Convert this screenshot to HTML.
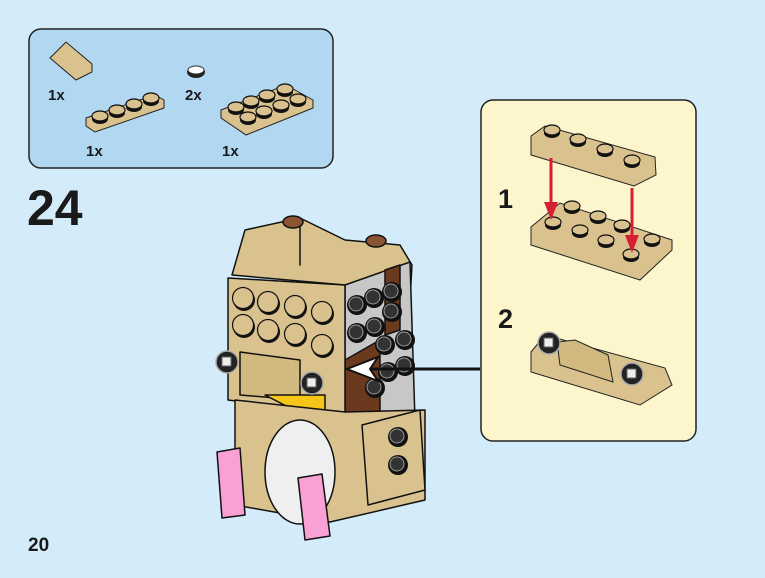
<!DOCTYPE html><html><head><style>body{margin:0;width:765px;height:578px;overflow:hidden;background:#d4ebfa}svg{display:block}text{font-family:"Liberation Sans",sans-serif;font-weight:bold;fill:#1a1a1a}</style></head><body>
<svg width="765" height="578" viewBox="0 0 765 578">
<defs>
<g id="st"><ellipse cx="0" cy="2" rx="8" ry="5" fill="#111"/><ellipse cx="0" cy="-1" rx="8" ry="5" fill="#d9c28e" stroke="#111" stroke-width="1.2"/></g>
<g id="fs"><circle cx="1" cy="2" r="11" fill="#111"/><circle r="10.5" fill="#d9c28e" stroke="#111" stroke-width="1.2"/></g>
<g id="bst"><circle r="10" fill="#111"/><circle cx="-1" cy="-1" r="7" fill="#333" stroke="#999" stroke-width="1"/></g>
<g id="ts"><circle r="11" fill="#222" stroke="#aaa" stroke-width="1.5"/><rect x="-5" y="-5" width="9" height="9" fill="#eee" stroke="#666"/></g>
</defs>
<rect x="29" y="29" width="304" height="139" rx="12" fill="#b1d7f1" stroke="#222" stroke-width="1.5"/>
<polygon points="50,58 66,42 92,64 92,72 76,80" fill="#d9c28e" stroke="#222"/>
<text x="48" y="100" font-size="15">1x</text>
<polygon points="86,118 155,95 164,100 164,108 95,132 86,126" fill="#d9c28e" stroke="#222"/>
<use href="#st" x="100" y="117"/><use href="#st" x="117" y="111"/><use href="#st" x="134" y="105"/><use href="#st" x="151" y="99"/>
<text x="86" y="156" font-size="15">1x</text>
<ellipse cx="196" cy="72" rx="9" ry="6" fill="#222"/><ellipse cx="196" cy="70" rx="8" ry="4" fill="#fff" stroke="#333"/>
<text x="185" y="100" font-size="15">2x</text>
<polygon points="221,110 286,85 313,100 313,108 246,135 221,118" fill="#d9c28e" stroke="#222"/>
<use href="#st" x="236" y="108"/><use href="#st" x="251" y="102"/><use href="#st" x="267" y="96"/><use href="#st" x="285" y="90"/>
<use href="#st" x="248" y="118"/><use href="#st" x="264" y="112"/><use href="#st" x="281" y="106"/><use href="#st" x="298" y="100"/>
<text x="222" y="156" font-size="15">1x</text>
<text x="27" y="225" font-size="50">24</text>
<text x="28" y="551" font-size="19">20</text>
<rect x="481" y="100" width="215" height="341" rx="12" fill="#fdf6cc" stroke="#222" stroke-width="1.5"/>
<text x="498" y="208" font-size="27">1</text><text x="498" y="328" font-size="27">2</text>
<polygon points="531,136 545,126 655,157 656,175 634,186 531,155" fill="#d9c28e" stroke="#222"/>
<use href="#st" x="552" y="131"/><use href="#st" x="578" y="140"/><use href="#st" x="605" y="150"/><use href="#st" x="632" y="161"/>
<polygon points="531,227 560,203 672,240 672,250 640,280 531,245" fill="#d9c28e" stroke="#222"/>
<use href="#st" x="553" y="223"/><use href="#st" x="572" y="207"/><use href="#st" x="580" y="231"/><use href="#st" x="598" y="217"/><use href="#st" x="606" y="241"/><use href="#st" x="622" y="226"/><use href="#st" x="631" y="255"/><use href="#st" x="652" y="240"/>
<line x1="551" y1="158" x2="551" y2="212" stroke="#d42032" stroke-width="3"/><polygon points="544,202 558,202 551,220" fill="#d42032"/>
<line x1="632" y1="188" x2="632" y2="245" stroke="#d42032" stroke-width="3"/><polygon points="625,235 639,235 632,253" fill="#d42032"/>
<polygon points="531,352 545,335 665,368 672,385 640,405 531,372" fill="#d9c28e" stroke="#222"/>
<polygon points="557,342 575,340 608,355 613,382 560,365" fill="#d2b97f" stroke="#222"/>
<use href="#ts" x="549" y="343"/><use href="#ts" x="632" y="374"/>
<g stroke="#111" stroke-width="1.5" stroke-linejoin="round">
<polygon points="232,275 245,230 300,218 345,240 400,245 412,265 410,300 345,285" fill="#d9c28e"/>
<polygon points="300,218 300,265" fill="none"/>
<polygon points="345,285 410,262 415,420 345,420" fill="#c7c7c7"/>
<polygon points="345,360 380,340 380,420 345,420" fill="#6b3a1e"/>
<polygon points="385,270 400,265 400,330 385,335" fill="#6b3a1e"/>
<polygon points="228,278 345,285 345,415 228,400" fill="#d9c28e"/>
<polygon points="240,352 300,360 300,400 240,395" fill="#d2b97f"/>
<polygon points="265,395 325,395 325,412 290,408" fill="#f5c518"/>
<polygon points="235,400 345,412 425,410 425,500 330,522 235,505" fill="#d9c28e"/>
<polygon points="362,425 420,410 425,490 368,505" fill="#d9c28e"/>
<ellipse cx="300" cy="472" rx="35" ry="52" fill="#efefef"/>
<polygon points="217,452 240,448 245,515 222,518" fill="#f9a1d4"/>
<polygon points="298,478 322,474 330,536 305,540" fill="#f9a1d4"/>
<ellipse cx="293" cy="222" rx="10" ry="6" fill="#8a5533"/><ellipse cx="376" cy="241" rx="10" ry="6" fill="#8a5533"/>
</g>
<use href="#fs" x="243" y="298"/><use href="#fs" x="268" y="302"/><use href="#fs" x="295" y="306"/><use href="#fs" x="322" y="312"/>
<use href="#fs" x="243" y="325"/><use href="#fs" x="268" y="330"/><use href="#fs" x="295" y="334"/><use href="#fs" x="322" y="345"/>
<use href="#bst" x="357" y="305"/><use href="#bst" x="374" y="298"/><use href="#bst" x="357" y="333"/><use href="#bst" x="375" y="327"/><use href="#bst" x="392" y="292"/><use href="#bst" x="392" y="312"/>
<use href="#bst" x="385" y="345"/><use href="#bst" x="405" y="340"/><use href="#bst" x="388" y="372"/><use href="#bst" x="405" y="366"/><use href="#bst" x="375" y="388"/>
<use href="#bst" x="398" y="437"/><use href="#bst" x="398" y="465"/>
<use href="#ts" x="227" y="362"/><use href="#ts" x="312" y="383"/>
<line x1="480" y1="369" x2="365" y2="369" stroke="#111" stroke-width="3"/>
<polygon points="347,369 378,357 370,369 378,381" fill="#fff" stroke="#111" stroke-width="2"/>
</svg></body></html>
